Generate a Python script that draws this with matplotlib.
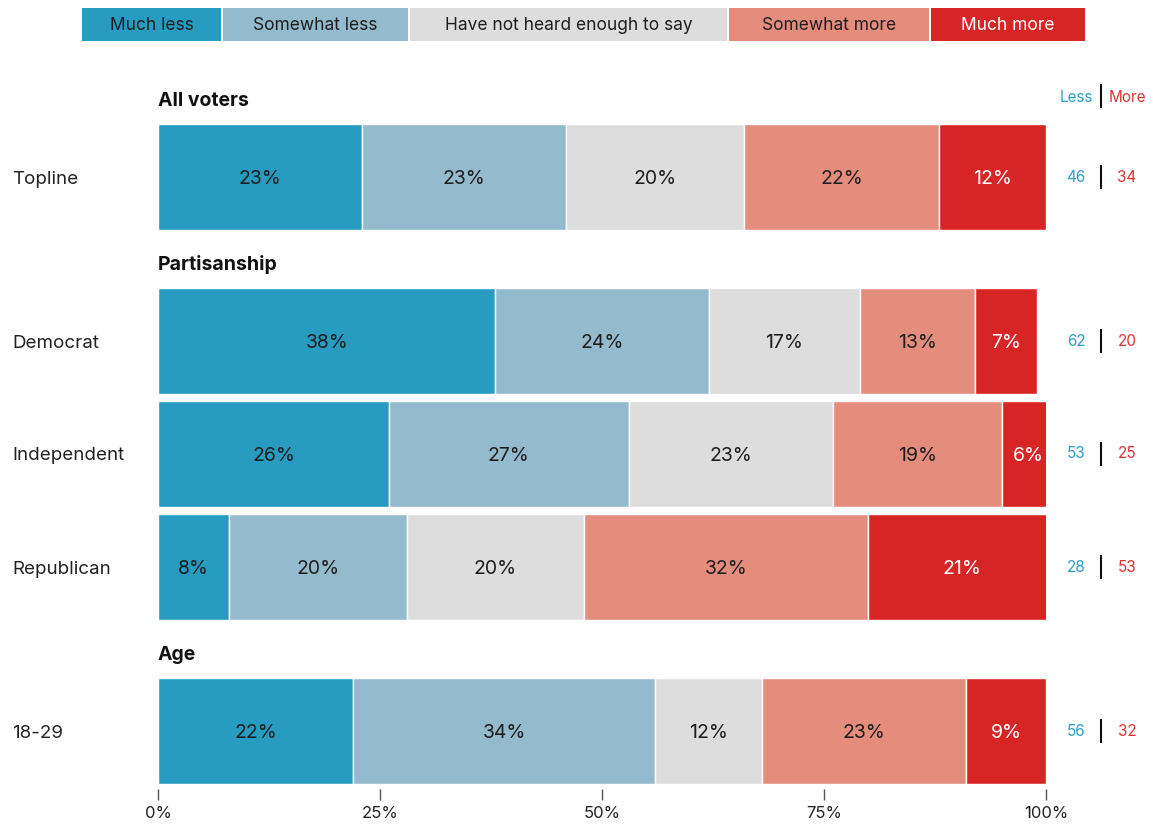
import matplotlib.pyplot as plt
from matplotlib.patches import Rectangle
from matplotlib.lines import Line2D
from matplotlib.transforms import blended_transform_factory

plt.rcParams['font.family'] = ['Inter', 'DejaVu Sans']

# Survey results (percent)
categories = ['Much less', 'Somewhat less', 'Have not heard enough to say', 'Somewhat more', 'Much more']
groups = ['Topline', 'Democrat', 'Independent', 'Republican', '18-29']
much_less = [23, 38, 26, 8, 22]
somewhat_less = [23, 24, 27, 20, 34]
not_heard = [20, 17, 23, 20, 12]
somewhat_more = [22, 13, 19, 32, 23]
much_more = [12, 7, 6, 21, 9]
sections = ['All voters', 'Partisanship', 'Age']

colors = ['#279cc0', '#93bbcd', '#dddddd', '#e58d7c', '#d72526']
text_colors = ['#1e1e1e', '#1e1e1e', '#1e1e1e', '#1e1e1e', '#ffffff']
less_color = '#2e9ec9'
more_color = '#d93434'

# vertical layout (pixel units from the top of the figure)
W, H = 1153, 824
row_y = [177, 341, 454, 567, 731]
bar_h = 106
section_y = [100, 264, 654]
y_top, y_bot = 90, 789
dy = 2  # nudge text slightly below the bar centre

fig = plt.figure(figsize=(W / 100, H / 100), dpi=100)
ax = fig.add_axes([158 / W, (H - y_bot) / H, 888 / W, (y_bot - y_top) / H])
ax.set_xlim(0, 100)
ax.set_ylim(y_bot, y_top)

series = [much_less, somewhat_less, not_heard, somewhat_more, much_more]
left = [0] * len(groups)
for vals, col, tcol in zip(series, colors, text_colors):
    ax.barh(row_y, vals, left=left, height=bar_h, color=col,
            edgecolor='white', linewidth=1)
    for y, l, v in zip(row_y, left, vals):
        ax.text(l + v / 2, y + dy, f'{v}%', ha='center', va='center',
                fontsize=14, color=tcol)
    left = [l + v for l, v in zip(left, vals)]

# row labels and section headers
trans_row = blended_transform_factory(fig.transFigure, ax.transData)
for y, g in zip(row_y, groups):
    ax.text(12 / W, y + dy, g, transform=trans_row, ha='left', va='center',
            fontsize=13.5, color='#222222')
for y, s in zip(section_y, sections):
    ax.text(0, y + 1, s, ha='left', va='center', fontsize=14,
            fontweight='bold', color='#111111')

def divider(y):
    ax.add_line(Line2D([1101 / W, 1101 / W], [y - 11, y + 11],
                       transform=trans_row, color='#111111', lw=1.5,
                       clip_on=False))

# less / more totals on the right
ax.text(1093 / W, 97, 'Less', transform=trans_row, ha='right',
        va='center', fontsize=11, color=less_color)
ax.text(1109 / W, 97, 'More', transform=trans_row, ha='left',
        va='center', fontsize=11, color=more_color)
divider(96)
for i, y in enumerate(row_y):
    less = much_less[i] + somewhat_less[i]
    more = somewhat_more[i] + much_more[i]
    ax.text(1076 / W, y, str(less), transform=trans_row, ha='center',
            va='center', fontsize=11, color=less_color)
    ax.text(1127 / W, y, str(more), transform=trans_row, ha='center',
            va='center', fontsize=11, color=more_color)
    divider(y)

# x axis
ax.set_xticks([0, 25, 50, 75, 100])
ax.set_xticklabels(['0%', '25%', '50%', '75%', '100%'])
ax.tick_params(axis='x', length=8, width=1, color='#555555', pad=4,
               labelsize=12, labelcolor='#222222')
ax.set_yticks([])
for sp in ax.spines.values():
    sp.set_visible(False)

# legend boxes across the top
legend_x = [(82, 221), (223, 408), (410, 727), (729, 929), (931, 1085)]
for (x0, x1), cat, col, tcol in zip(legend_x, categories, colors, text_colors):
    fig.patches.append(Rectangle((x0 / W, 1 - 41 / H), (x1 - x0) / W, 33 / H,
                                 transform=fig.transFigure, facecolor=col,
                                 edgecolor='none'))
    fig.text((x0 + x1) / 2 / W, 1 - 26 / H, cat, ha='center', va='center',
             fontsize=12.5, color=tcol)

fig.savefig('out.png', dpi=100)
